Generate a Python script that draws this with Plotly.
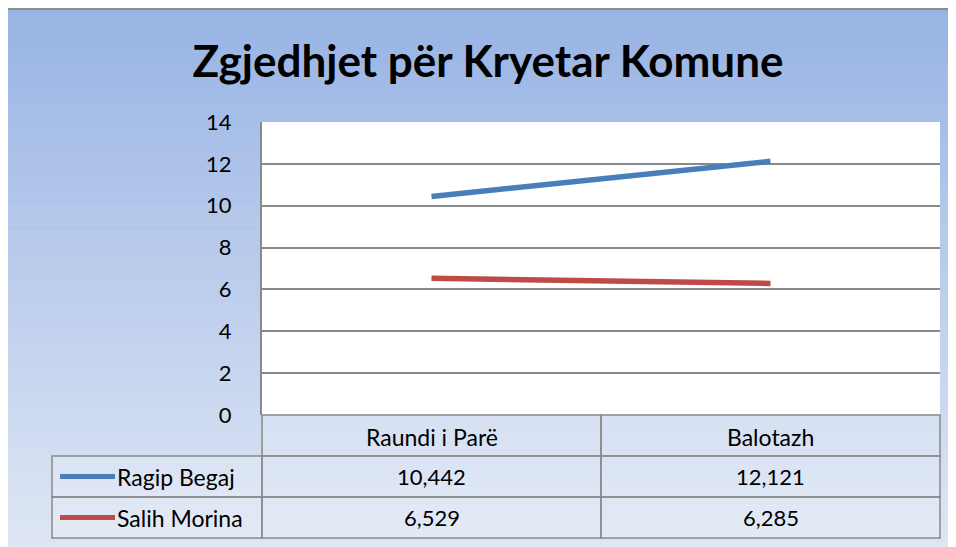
import plotly.graph_objects as go

categories = ["Raundi i Parë", "Balotazh"]
series_names = ["Ragip Begaj", "Salih Morina"]
ragip_begaj = [10.442, 12.121]
salih_morina = [6.529, 6.285]
series_values = [ragip_begaj, salih_morina]
series_colors = ["#4A7EBB", "#BE4B48"]
y_ticks = [0, 2, 4, 6, 8, 10, 12, 14]
title_text = "Zgjedhjet për Kryetar Komune"

# the page body has an 8px margin; lay out in screen pixels and compensate
OFF = 8
FW, FH = 956 - OFF, 547 - OFF
FONT = "Lato"

def px(x):
    return (x - OFF) / FW

def py(y):
    return 1 - (y - OFF) / FH

# plot area in screen pixels
PL, PR, PT, PB = 262, 940, 122, 415
ROW_H = 41
TABLE_L = 52

fig = go.Figure()

for name, vals, col in zip(series_names, series_values, series_colors):
    fig.add_trace(go.Scatter(
        x=list(range(len(categories))), y=vals, mode="lines", name=name,
        line=dict(color=col, width=5.5), showlegend=False, hoverinfo="skip"))

shapes = []
# gradient background (frame)
top_c = (152, 180, 228)
bot_c = (222, 230, 244)
FT = 9
n = 90
for i in range(n):
    y0 = FT + (547 - FT) * i / n
    y1 = FT + (547 - FT) * (i + 1) / n + 0.6
    t = i / (n - 1)
    c = tuple(round(top_c[k] + (bot_c[k] - top_c[k]) * t) for k in range(3))
    shapes.append(dict(type="rect", xref="paper", yref="paper",
                       x0=0, x1=1, y0=max(py(y1), 0), y1=py(y0),
                       fillcolor="rgb(%d,%d,%d)" % c, line=dict(width=0), layer="below"))
# frame border (top)
shapes.append(dict(type="line", xref="paper", yref="paper", x0=0, x1=1,
                   y0=py(FT), y1=py(FT), line=dict(color="#8C8C8C", width=2), layer="below"))
# plot area white
shapes.append(dict(type="rect", xref="paper", yref="paper", x0=px(PL), x1=px(PR),
                   y0=py(PB), y1=py(PT), fillcolor="white", line=dict(width=0), layer="below"))

# data table
ncol = len(categories)
colw = (PR - PL) / ncol
tbl_fill = "rgba(255,255,255,0.18)"
line_c = "#898989"
for j in range(ncol):
    shapes.append(dict(type="rect", xref="paper", yref="paper",
                       x0=px(PL + j * colw), x1=px(PL + (j + 1) * colw),
                       y0=py(PB + ROW_H), y1=py(PB), fillcolor=tbl_fill,
                       line=dict(color=line_c, width=1.5)))
for i in range(len(series_names)):
    ytop = PB + ROW_H * (i + 1)
    shapes.append(dict(type="rect", xref="paper", yref="paper",
                       x0=px(TABLE_L), x1=px(PL), y0=py(ytop + ROW_H), y1=py(ytop),
                       fillcolor=tbl_fill, line=dict(color=line_c, width=1.5)))
    for j in range(ncol):
        shapes.append(dict(type="rect", xref="paper", yref="paper",
                           x0=px(PL + j * colw), x1=px(PL + (j + 1) * colw),
                           y0=py(ytop + ROW_H), y1=py(ytop), fillcolor=tbl_fill,
                           line=dict(color=line_c, width=1.5)))
    yc = ytop + ROW_H / 2
    shapes.append(dict(type="line", xref="paper", yref="paper", x0=px(60), x1=px(115),
                       y0=py(yc), y1=py(yc), line=dict(color=series_colors[i], width=5)))

annotations = []
for j, cat in enumerate(categories):
    annotations.append(dict(x=px(PL + (j + 0.5) * colw), y=py(PB + ROW_H / 2 + 1), xref="paper",
                            yref="paper", text=cat, showarrow=False, xanchor="center",
                            yanchor="middle", font=dict(family=FONT, size=23, color="black")))
for i, name in enumerate(series_names):
    yc = PB + ROW_H * (i + 1) + ROW_H / 2
    annotations.append(dict(x=px(115), y=py(yc), xref="paper", yref="paper", text=name,
                            showarrow=False, xanchor="left", yanchor="middle",
                            font=dict(family=FONT, size=23, color="black")))
    for j in range(ncol):
        txt = ("%.3f" % series_values[i][j]).replace(".", ",")
        annotations.append(dict(x=px(PL + (j + 0.5) * colw), y=py(yc), xref="paper",
                                yref="paper", text=txt, showarrow=False, xanchor="center",
                                yanchor="middle", font=dict(family=FONT, size=22, color="black")))

fig.update_layout(
    width=FW, height=FH,
    margin=dict(l=0, r=0, t=0, b=0, pad=0),
    paper_bgcolor="white", plot_bgcolor="rgba(0,0,0,0)",
    title=dict(text="<b>%s</b>" % title_text, x=px(488), xanchor="center",
               y=py(62), yanchor="middle",
               font=dict(family=FONT, size=44, color="black")),
    xaxis=dict(domain=[px(PL), px(PR)], range=[-0.5, ncol - 0.5], showticklabels=False,
               showgrid=False, zeroline=False, showline=False, fixedrange=True,
               automargin=False),
    yaxis=dict(domain=[py(PB), py(PT)], range=[0, 14], tickvals=y_ticks,
               showgrid=True, gridcolor=line_c, gridwidth=2, zeroline=False,
               showline=True, linecolor=line_c, linewidth=2,
               ticks="", ticklabelstandoff=24, automargin=False,
               tickfont=dict(family=FONT, size=22, color="black"), fixedrange=True),
    shapes=shapes, annotations=annotations,
)

fig.write_html("out.html")
